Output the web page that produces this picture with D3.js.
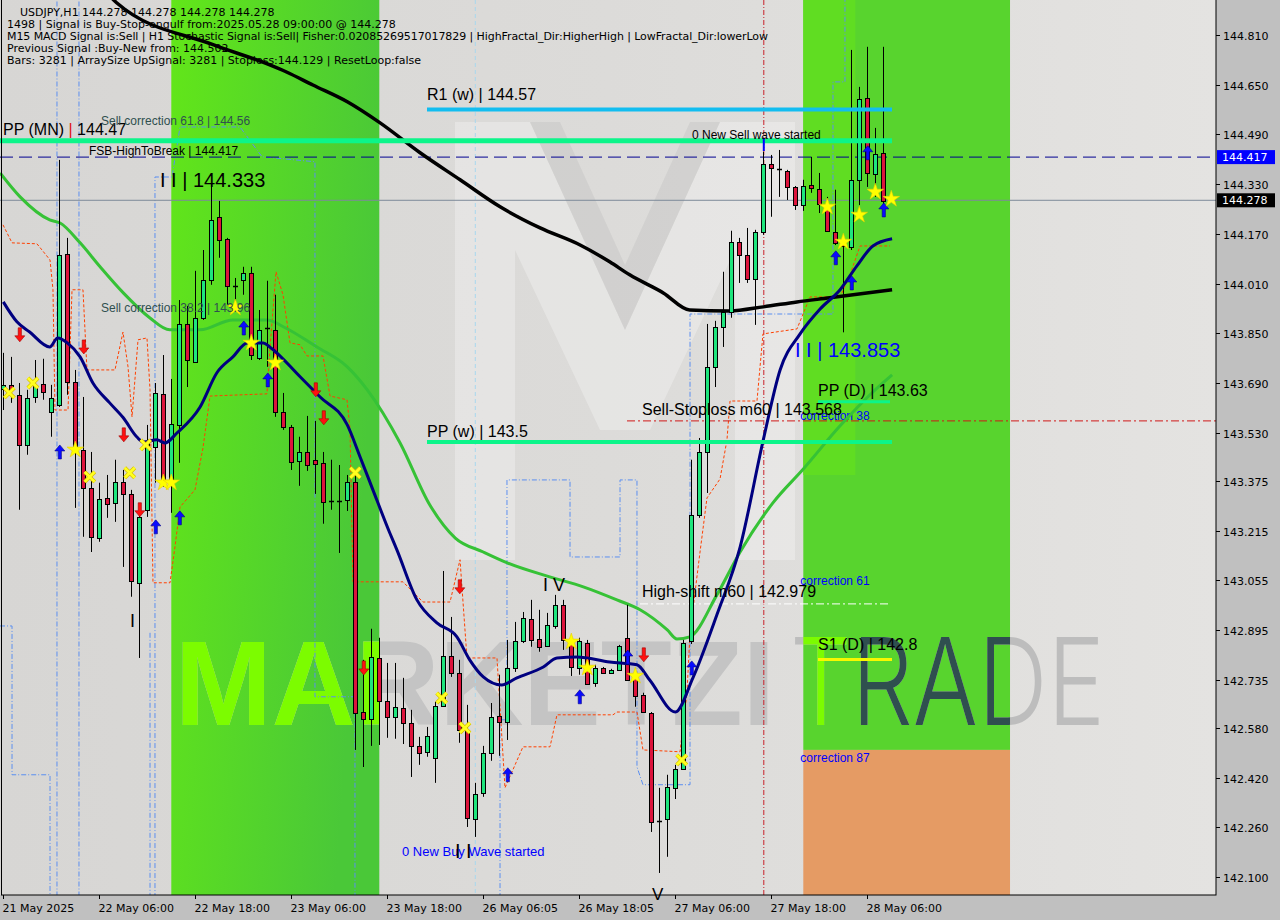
<!DOCTYPE html>
<html><head><meta charset="utf-8">
<script src="https://cdn.jsdelivr.net/npm/d3@7"></script>
<style>html,body{margin:0;padding:0;background:#c0c0c0;}svg{display:block}</style>
</head><body>
<svg id="c" width="1280" height="920"></svg>
<script>
// ---------------- DATA ----------------
const dateLabels = ['21 May 2025','22 May 06:00','22 May 18:00','23 May 06:00','23 May 18:00','26 May 06:05','26 May 18:05','27 May 06:00','27 May 18:00','28 May 06:00'];
const dateLabelBars = [0,12,24,36,48,60,72,84,96,108];
const priceTicks = [144.81,144.65,144.49,144.33,144.17,144.01,143.85,143.69,143.53,143.375,143.215,143.055,142.895,142.735,142.58,142.42,142.26,142.1];

const open = [
143.671,143.684,143.652,143.491,143.645,143.687,143.597,143.620,144.106,143.694,
143.475,143.352,143.191,143.320,143.304,143.372,143.333,143.047,143.282,143.484,
143.655,143.369,143.555,143.880,143.758,143.900,144.022,144.225,144.154,144.006,
144.022,144.044,143.771,143.871,143.861,143.597,143.549,143.439,143.468,143.443,
143.433,143.314,143.314,143.314,143.372,142.631,142.609,142.805,142.667,142.615,
142.644,142.596,142.522,142.503,142.483,142.651,142.812,142.757,142.574,142.287,
142.371,142.500,142.619,142.599,142.773,142.860,142.931,142.866,142.844,142.908,
142.976,142.857,142.773,142.853,142.725,142.773,142.757,142.767,142.870,142.744,
142.686,142.628,142.281,142.287,142.387,142.448,142.860,143.266,143.468,143.742,
143.871,143.919,144.144,144.102,144.025,144.176,144.395,144.382,144.373,144.321,
144.263,144.328,144.315,144.257,144.176,144.141,144.128,144.344,144.608,144.363,
144.431];
const high = [
143.787,143.774,143.690,143.668,143.764,143.768,143.684,144.408,144.157,143.732,
143.645,143.468,143.369,143.394,143.443,143.410,143.346,143.272,143.555,143.690,
143.780,143.703,143.957,143.938,144.051,144.118,144.333,144.276,144.157,144.028,
144.064,144.064,143.925,144.019,143.974,143.658,143.555,143.517,143.584,143.568,
143.468,143.443,143.426,143.394,143.394,142.799,142.899,142.870,142.789,142.789,
142.741,142.638,142.551,142.583,142.664,143.085,142.937,142.799,142.654,142.403,
142.522,142.660,142.751,142.863,142.921,142.953,142.992,142.960,142.950,143.008,
142.992,142.873,142.870,142.863,142.783,142.776,142.770,142.847,142.976,142.751,
142.693,142.631,142.387,142.429,142.461,142.863,143.443,143.513,143.880,143.890,
144.048,144.180,144.157,144.189,144.183,144.434,144.424,144.440,144.376,144.324,
144.344,144.418,144.366,144.289,144.312,144.151,144.762,144.643,144.772,144.511,
144.772];
const low = [
143.603,143.626,143.282,143.459,143.626,143.636,143.517,143.613,143.652,143.288,
143.195,143.146,143.179,143.256,143.243,143.098,143.002,142.805,143.259,143.369,
143.356,143.272,143.433,143.677,143.755,143.893,144.006,144.093,143.938,143.938,
143.974,143.764,143.764,143.742,143.581,143.539,143.410,143.359,143.407,143.333,
143.237,143.282,143.143,143.278,142.509,142.454,142.522,142.525,142.548,142.545,
142.528,142.422,142.461,142.487,142.403,142.648,142.744,142.532,142.261,142.229,
142.358,142.474,142.490,142.541,142.760,142.853,142.841,142.825,142.841,142.899,
142.831,142.747,142.751,142.718,142.712,142.754,142.754,142.764,142.731,142.648,
142.628,142.245,142.113,142.165,142.351,142.445,142.850,143.256,143.336,143.677,
143.806,143.900,144.012,144.012,143.877,144.167,144.225,144.289,144.279,144.247,
144.244,144.302,144.237,144.176,144.134,143.853,144.118,144.263,144.321,144.289,
144.263];
const close = [
143.684,143.671,143.491,143.642,143.681,143.661,143.642,144.102,143.694,143.475,
143.352,143.195,143.317,143.301,143.372,143.333,143.053,143.259,143.497,143.658,
143.369,143.558,143.880,143.764,143.900,144.022,144.215,144.151,144.003,144.003,
144.044,143.780,143.861,143.867,143.597,143.549,143.436,143.468,143.426,143.430,
143.307,143.311,143.311,143.372,142.628,142.609,142.808,142.667,142.615,142.648,
142.596,142.522,142.500,142.554,142.651,142.812,142.757,142.574,142.290,142.368,
142.500,142.615,142.599,142.773,142.860,142.934,142.863,142.841,142.911,142.976,
142.863,142.776,142.860,142.722,142.773,142.757,142.767,142.844,142.734,142.683,
142.631,142.277,142.279,142.390,142.448,142.853,143.266,143.468,143.742,143.871,
143.919,144.144,144.102,144.025,144.176,144.395,144.382,144.379,144.321,144.263,
144.324,144.318,144.266,144.180,144.141,144.131,144.344,144.604,144.366,144.427,
144.278];

// indicator lines: [bar, price]
const maGreen = [[-0.4,144.366],[2.1,144.289],[5.8,144.215],[7.1,144.205],[9.6,144.141],[12.1,144.064],[15,143.98],[18.3,143.9],[20.8,143.861],[24.6,143.861],[28.7,143.893],[33,143.893],[35,143.871],[39.2,143.806],[43,143.742],[45.5,143.668],[49.6,143.497],[53.3,143.298],[56.5,143.191],[60,143.146],[63,143.111],[68.3,143.066],[72.5,143.034],[76.7,142.992],[79.6,142.96],[83,142.895],[84.2,142.866],[85.8,142.873],[89.2,143.008],[92.1,143.146],[96.2,143.304],[100,143.413],[104.6,143.552],[108.7,143.661],[111.1,143.716]];
const maNavy = [[0,143.951],[1.7,143.887],[3.3,143.854],[5.8,143.806],[6.8,143.835],[8,143.819],[9.6,143.774],[11.2,143.69],[13.3,143.626],[15,143.578],[16.7,143.516],[17.5,143.5],[19.2,143.507],[20.2,143.497],[21.7,143.529],[24.6,143.613],[26.7,143.723],[28.7,143.774],[30.5,143.819],[32.5,143.819],[33.3,143.806],[37.1,143.71],[39.6,143.645],[43,143.555],[44.6,143.452],[46.2,143.346],[48.3,143.208],[49.2,143.153],[51.7,142.992],[54.2,142.918],[56.7,142.873],[58.3,142.799],[60,142.744],[62.3,142.718],[64.2,142.741],[67.5,142.776],[69.2,142.805],[71.7,142.808],[75.8,142.792],[79.2,142.783],[80.8,142.734],[84,142.631],[86.2,142.741],[89.2,142.944],[92.1,143.162],[95,143.507],[97.1,143.732],[99.6,143.848],[102.1,143.928],[104.6,143.99],[106.7,144.067],[108.7,144.131],[111.1,144.154]];
const maBlack = [[12.1,144.971],[14.2,144.913],[26.3,144.778],[33,144.717],[35.4,144.691],[38.7,144.649],[43,144.595],[47.1,144.527],[52.1,144.431],[57.1,144.344],[62.1,144.257],[67.1,144.189],[72.1,144.134],[75.8,144.08],[78.3,144.038],[82.5,143.98],[85.8,143.925],[90.8,143.922],[95,143.935],[99.2,143.951],[103.3,143.964],[111.1,143.99]];
const redStep = [[-0.04,144.199],[1.09,144.141],[4.21,144.138],[5.84,144.086],[6.21,143.99],[6.46,143.603],[8.09,143.603],[8.59,143.99],[9.96,143.99],[10.46,143.732],[13.96,143.732],[14.96,143.854],[15.59,143.742],[16.09,143.581],[16.84,143.829],[17.96,143.835],[18.34,143.668],[18.71,143.047],[20.84,143.047],[21.46,143.163],[22.09,143.291],[23.96,143.346],[24.96,143.481],[25.84,143.648],[32.96,143.655],[33.34,143.803],[34.09,144.048],[34.96,143.974],[35.84,143.819],[37.09,143.813],[37.96,143.777],[39.96,143.777],[40.84,143.648],[42.96,143.636],[43.34,143.542],[43.71,143.05],[49.96,143.05],[52.46,142.985],[55.84,142.985],[57.09,143.121],[57.96,142.805],[61.71,142.805],[62.71,142.387],[64.96,142.519],[68.34,142.519],[69.21,142.622],[76.21,142.622],[76.71,142.631],[79.21,142.631],[79.96,142.509],[84.59,142.503],[85.46,142.693],[85.84,142.886],[87.09,143.146],[87.96,143.32],[89.59,143.381],[90.46,143.507],[90.84,143.632],[94.21,143.632],[94.96,143.848],[99.21,143.864],[100.84,143.967],[104.59,143.967],[105.84,144.038],[107.09,144.131],[110.84,144.131]];
const blueSteps = [
 [[-0.41,142.908],[1.09,142.908],[1.09,142.429],[5.84,142.429],[5.84,142.0]],
 [[6.71,144.95],[6.71,142.0]],
 [[9.46,144.95],[9.46,142.0]],
 [[18.34,142.886],[18.34,142.0]],
 [[18.96,142.0],[18.96,144.353],[21.09,144.353],[22.09,144.514],[29.59,144.514],[32.34,144.418],[38.96,144.402],[38.96,142.68],[43.96,142.68],[43.96,142.0]],
 [[62.09,142.0],[62.09,142.606],[62.96,142.606],[62.96,143.378],[70.84,143.378],[70.84,143.13],[77.09,143.13],[77.09,143.378],[79.21,143.378],[79.21,142.454],[79.96,142.397],[85.84,142.397],[85.84,143.912],[103.71,143.912],[103.71,144.659],[105.21,144.659],[105.21,144.95]]
];

const redArrows = [[2,143.845],[10,143.806],[15,143.523],[17,143.282],[39,143.668],[40,143.578],[45,142.773],[57,143.034],[80,142.815]];
const blueArrows = [[7,143.468],[19,143.227],[22,143.256],[30,143.867],[33,143.700],[63,142.429],[72,142.680],[78,142.808],[86,142.773],[104,144.093],[106,144.012],[108,144.431],[110,144.247]];
const stars = [[9,143.475],[20,143.369],[21,143.369],[29,143.932],[31,143.819],[34,143.755],[71,142.857],[73,142.773],[79,142.747],[103,144.257],[105,144.144],[107,144.231],[109,144.305],[111,144.282]];
const crosses = [[0.75,143.658],[3.7,143.690],[10.8,143.388],[15.8,143.401],[17.8,143.491],[44,143.401],[54.8,142.676],[57.7,142.580],[84.8,142.477]];

const headerLines = [
 'USDJPY,H1  144.278 144.278 144.278 144.278',
 '1498 | Signal is Buy-Stop-engulf from:2025.05.28 09:00:00 @ 144.278',
 'M15 MACD Signal is:Sell | H1 Stochastic Signal is:Sell| Fisher:0.02085269517017829 | HighFractal_Dir:HigherHigh | LowFractal_Dir:lowerLow',
 'Previous Signal :Buy-New from: 144.502',
 'Bars: 3281 | ArraySize UpSignal: 3281 | Stoploss:144.129 | ResetLoop:false'
];
const lastPrice = 144.278, fsbLevel = 144.417;
const levelPPMN = 144.47, levelR1w = 144.57, levelPPw = 143.5, levelPPD = 143.63, levelS1D = 142.8;
const sellStop = 143.568, highShift = 142.979, sellCorr618 = 144.56, sellCorr382 = 143.96;
const corrLabels = ['correction 38','correction 61','correction 87'];
const corrValues = [143.57,143.04,142.47];
const zoneBars1 = [21,47], zoneBars2 = [100,125.84], zoneSplit = 142.509;

// ---------------- CHART ----------------
const PR = 1216, PB = 895;
const svg = d3.select('#c');
const x = d3.scaleLinear().domain([0,110]).range([3.3,883.3]);
const y = d3.scaleLinear().domain([142.1,144.81]).range([877,35]);
const defs = svg.append('defs');
const bgG = defs.append('linearGradient').attr('id','bg').attr('x1',0).attr('x2',1).attr('y1',0).attr('y2',0);
[['0','#d7d6d4'],['0.5','#dcdbd9'],['1','#e4e3e1']].forEach(s=>bgG.append('stop').attr('offset',s[0]).attr('stop-color',s[1]));
const z1G = defs.append('linearGradient').attr('id','z1').attr('x1',0).attr('x2',1).attr('y1',0).attr('y2',0.3);
z1G.append('stop').attr('offset',0).attr('stop-color','#62e619');
z1G.append('stop').attr('offset',1).attr('stop-color','#4ac838');
defs.append('clipPath').attr('id','plot').append('rect').attr('x',0).attr('y',0).attr('width',PR).attr('height',PB);
const cpL = defs.append('clipPath').attr('id','wmLime');
cpL.append('rect').attr('x',x(zoneBars1[0])).attr('y',0).attr('width',x(zoneBars1[1])-x(zoneBars1[0])).attr('height',PB);
cpL.append('rect').attr('x',x(zoneBars2[0])).attr('y',0).attr('width',57).attr('height',y(zoneSplit));
const cpD = defs.append('clipPath').attr('id','wmDark');
cpD.append('rect').attr('x',x(zoneBars2[0])+57).attr('y',0).attr('width',x(zoneBars2[1])-x(zoneBars2[0])-57).attr('height',y(zoneSplit));

svg.append('rect').attr('width',1280).attr('height',920).attr('fill','#c0c0c0');
svg.append('rect').attr('x',0).attr('y',0).attr('width',PR).attr('height',PB).attr('fill','url(#bg)');

const P = svg.append('g').attr('clip-path','url(#plot)');
// watermark logo M
P.append('path').attr('d','M455,560 L455,122 L530,122 L625,330 L720,122 L795,122 L795,560 L735,560 L735,250 L650,430 L600,430 L515,250 L515,560 Z')
 .attr('fill','rgba(255,255,255,0.28)');
P.append('path').attr('d','M530,122 L625,330 L720,122 L690,122 L625,265 L560,122 Z').attr('fill','rgba(190,190,190,0.35)');

// zones
P.append('rect').attr('x',x(zoneBars1[0])).attr('y',0).attr('width',x(zoneBars1[1])-x(zoneBars1[0])).attr('height',PB).attr('fill','url(#z1)');
P.append('rect').attr('x',x(zoneBars2[0])).attr('y',0).attr('width',x(zoneBars2[1])-x(zoneBars2[0])).attr('height',y(zoneSplit)).attr('fill','#58d42e');
P.append('rect').attr('x',x(zoneBars2[0])).attr('y',0).attr('width',52).attr('height',475).attr('fill','#60dd22');
P.append('rect').attr('x',x(zoneBars2[0])).attr('y',y(zoneSplit)).attr('width',x(zoneBars2[1])-x(zoneBars2[0])).attr('height',PB-y(zoneSplit)).attr('fill','#e59b64');

// watermark text
function wm(g, c1, c2){
  g.append('text').attr('x',175).attr('y',725).attr('font-family','Liberation Sans, Arial, sans-serif').attr('font-weight','bold')
   .attr('font-size',121).attr('textLength',600).attr('lengthAdjust','spacingAndGlyphs').attr('fill',c1).text('MARKETZI');
  g.append('text').attr('x',790).attr('y',725).attr('font-family','Inter, Lato, sans-serif').attr('font-weight',300)
   .attr('font-size',121).attr('textLength',315).attr('lengthAdjust','spacingAndGlyphs').attr('fill',c2).text('TRADE');
}
wm(P.append('g'),'#c4c4c4','#bdbdbd');
wm(P.append('g').attr('clip-path','url(#wmLime)'),'#7cfc00','#7cfc00');
wm(P.append('g').attr('clip-path','url(#wmDark)'),'#2f4f4f','#2f4f4f');

// correction labels
corrLabels.forEach((t,i)=>P.append('text').attr('x',x(zoneBars2[0])-3).attr('y',y(corrValues[i])).attr('font-family','Liberation Sans, Arial').attr('font-size',12).attr('fill','#0000ff').text(t));

// vertical lines
P.append('line').attr('x1',x(59)).attr('x2',x(59)).attr('y1',0).attr('y2',PB).attr('stroke','#a8d8ee').attr('stroke-dasharray','4,3');
P.append('line').attr('x1',x(95)+0.5).attr('x2',x(95)+0.5).attr('y1',0).attr('y2',PB).attr('stroke','#c8202a').attr('stroke-dasharray','5,2,1,2');

// blue step lines
const lineL = d3.line().x(d=>x(d[0])).y(d=>y(d[1]));
blueSteps.forEach(s=>P.append('path').attr('d',lineL(s)).attr('fill','none').attr('stroke','#5b8ff0').attr('stroke-width',1).attr('stroke-dasharray','5,2,1,2'));
// red step line
P.append('path').attr('d',lineL(redStep)).attr('fill','none').attr('stroke','#ff4000').attr('stroke-width',1).attr('stroke-dasharray','3,2');

// horizontal helper lines
P.append('line').attr('x1',0).attr('x2',PR).attr('y1',y(lastPrice)).attr('y2',y(lastPrice)).attr('stroke','#7d8a9a').attr('stroke-width',1);
P.append('line').attr('x1',0).attr('x2',PR).attr('y1',y(fsbLevel)).attr('y2',y(fsbLevel)).attr('stroke','#000090').attr('stroke-width',1).attr('stroke-dasharray','13,6');
P.append('line').attr('x1',627).attr('x2',PR).attr('y1',y(sellStop)).attr('y2',y(sellStop)).attr('stroke','#d01818').attr('stroke-width',1).attr('stroke-dasharray','8,3,2,3');
P.append('line').attr('x1',640).attr('x2',888).attr('y1',y(highShift)).attr('y2',y(highShift)).attr('stroke','#ffffff').attr('stroke-width',1).attr('stroke-dasharray','8,3,2,3');

// moving averages
const curve = d3.line().x(d=>x(d[0])).y(d=>y(d[1])).curve(d3.curveMonotoneX);
P.append('path').attr('d',curve(maGreen)).attr('fill','none').attr('stroke','#36c236').attr('stroke-width',3);
P.append('path').attr('d',curve(maBlack)).attr('fill','none').attr('stroke','#000').attr('stroke-width',3.5);

// candles
const candles = open.map((o,i)=>({i,o,h:high[i],l:low[i],c:close[i]}));
const CG = P.append('g');
candles.forEach(d=>{
  const cx = Math.round(x(d.i));
  CG.append('line').attr('x1',cx+0.5).attr('x2',cx+0.5).attr('y1',y(d.h)).attr('y2',y(d.l)).attr('stroke','#000');
  const y0 = y(Math.max(d.o,d.c)), y1 = y(Math.min(d.o,d.c));
  if (y1-y0 < 2) {
    CG.append('line').attr('x1',cx-2).attr('x2',cx+3).attr('y1',Math.round(y(d.c))+0.5).attr('y2',Math.round(y(d.c))+0.5).attr('stroke','#000').attr('stroke-width',1.5);
  } else {
    CG.append('rect').attr('x',cx-1.5).attr('y',Math.round(y0)+0.5).attr('width',4).attr('height',Math.round(y1-y0))
      .attr('fill', d.c>=d.o ? '#1fe57d' : '#dc143c').attr('stroke','#000').attr('stroke-width',1);
  }
});
P.append('path').attr('d',curve(maNavy)).attr('fill','none').attr('stroke','#000080').attr('stroke-width',3);

// thick level lines
function hl(v,x1,x2,col,w){P.append('line').attr('x1',x1).attr('x2',x2).attr('y1',y(v)).attr('y2',y(v)).attr('stroke',col).attr('stroke-width',w);}
hl(levelPPMN,0,892,'#0cf58a',5);
hl(levelR1w,427,892,'#12bdf0',4);
hl(levelPPw,427,892,'#0cf58a',4);
hl(levelPPD,818,890,'#0cf58a',3);
hl(levelS1D,818,892,'#f8f800',3);

// markers
const upA = 'M0,-7 L5,-1 L1.6,-1 L1.6,7 L-1.6,7 L-1.6,-1 L-5,-1 Z';
const dnA = 'M0,7 L5,1 L1.6,1 L1.6,-7 L-1.6,-7 L-1.6,1 L-5,1 Z';
blueArrows.forEach(d=>P.append('path').attr('d',upA).attr('transform',`translate(${x(d[0])+0.5},${y(d[1])})`).attr('fill','#0a0aff').attr('stroke','#00008b').attr('stroke-width',0.6));
redArrows.forEach(d=>P.append('path').attr('d',dnA).attr('transform',`translate(${x(d[0])+0.5},${y(d[1])})`).attr('fill','#ff1010').attr('stroke','#a00000').attr('stroke-width',0.6));
const starSym = d3.symbol(d3.symbolStar, 85);
stars.forEach(d=>P.append('path').attr('d',starSym()).attr('transform',`translate(${x(d[0])},${y(d[1])})`).attr('fill','#ffff00').attr('stroke','#e8d000').attr('stroke-width',0.6));
crosses.forEach(d=>{
  const t=`translate(${x(d[0])},${y(d[1])})`;
  P.append('path').attr('d','M-5,-5L5,5M5,-5L-5,5').attr('transform',t).attr('stroke','#d8c000').attr('stroke-width',4);
  P.append('path').attr('d','M-5,-5L5,5M5,-5L-5,5').attr('transform',t).attr('stroke','#ffff20').attr('stroke-width',2.6);
});
P.append('line').attr('x1',x(95)+0.5).attr('x2',x(95)+0.5).attr('y1',138).attr('y2',151).attr('stroke','#0000ff').attr('stroke-width',2);

// labels
const LF = 'Liberation Sans, Arial, sans-serif';
function tx(t,px,py,size,col,fam){return P.append('text').attr('x',px).attr('y',py).attr('font-family',fam||LF).attr('font-size',size).attr('fill',col||'#000').text(t);}
const ppmn = P.append('text').attr('x',3).attr('y',y(levelPPMN)-6).attr('font-family',LF).attr('font-size',16).attr('fill','#000');
ppmn.append('tspan').text('PP (MN) ');ppmn.append('tspan').attr('fill','#e01010').text('|');ppmn.append('tspan').text(' '+levelPPMN);
tx('FSB-HighToBreak | '+fsbLevel,89,y(fsbLevel)-2,12,'#000');
tx('Sell correction 61.8 | '+sellCorr618,101,y(sellCorr618)+12,12,'#2f4f4f');
tx('Sell correction 38.2 | '+sellCorr382,101,y(sellCorr382)+13,12,'#2f4f4f');
tx('R1 (w) | '+levelR1w,427,y(levelR1w)-10,16);
tx('0 New Sell wave started',692,139,12);
tx('PP (w) | '+levelPPw,427,y(levelPPw)-5,16);
tx('PP (D) | '+levelPPD,818,y(levelPPD)-6,16);
tx('Sell-Stoploss m60 | '+sellStop,642,y(sellStop)-6,16);
tx('High-shift m60 | '+highShift,642,y(highShift)-7,16);
tx('S1 (D) | '+levelS1D,818,y(levelS1D)-10,16);
tx('I I | 144.333',160,187,20);
tx('I I | 143.853',795,357,20,'#0000ff');
tx('I V',543,591,18);
tx('I',130,627,18);
tx('0 New Buy Wave started',402,856,13,'#0000ff');
tx('I I',455,858,20);
headerLines.forEach((t,i)=>tx(t,i===0?20:7,16+12*i,11,'#000','DejaVu Sans, sans-serif').attr('textLength', i===2?761:null));

// frame
svg.append('text').attr('x',652).attr('y',900).attr('font-family',LF).attr('font-size',17).text('V');
svg.append('rect').attr('x',1.5).attr('y',-1).attr('width',PR-1.5).attr('height',PB+1).attr('fill','none').attr('stroke','#000');

// price axis
const AF = 'DejaVu Sans, sans-serif';
priceTicks.forEach(v=>{
  const yy = Math.round(y(v))+0.5;
  svg.append('line').attr('x1',PR).attr('x2',PR+4).attr('y1',yy).attr('y2',yy).attr('stroke','#000');
  svg.append('text').attr('x',1223).attr('y',yy+4).attr('font-family',AF).attr('font-size',11).attr('fill','#000').text(v.toFixed(3));
});
[[fsbLevel,'#0000ff'],[lastPrice,'#000000']].forEach(t=>{
  const yy=y(t[0]);
  svg.append('rect').attr('x',PR+1).attr('y',yy-7).attr('width',58).attr('height',14).attr('fill',t[1]);
  svg.append('text').attr('x',1222).attr('y',yy+4).attr('font-family',AF).attr('font-size',11).attr('fill','#fff').text(t[0].toFixed(3));
});
// time axis
dateLabelBars.forEach((b,i)=>{
  const xx = Math.round(x(b))+0.5;
  svg.append('line').attr('x1',xx).attr('x2',xx).attr('y1',PB).attr('y2',PB+4).attr('stroke','#000');
  svg.append('text').attr('x',xx-1).attr('y',912).attr('font-family',AF).attr('font-size',11).attr('fill','#000').text(dateLabels[i]);
});
</script>
</body></html>
